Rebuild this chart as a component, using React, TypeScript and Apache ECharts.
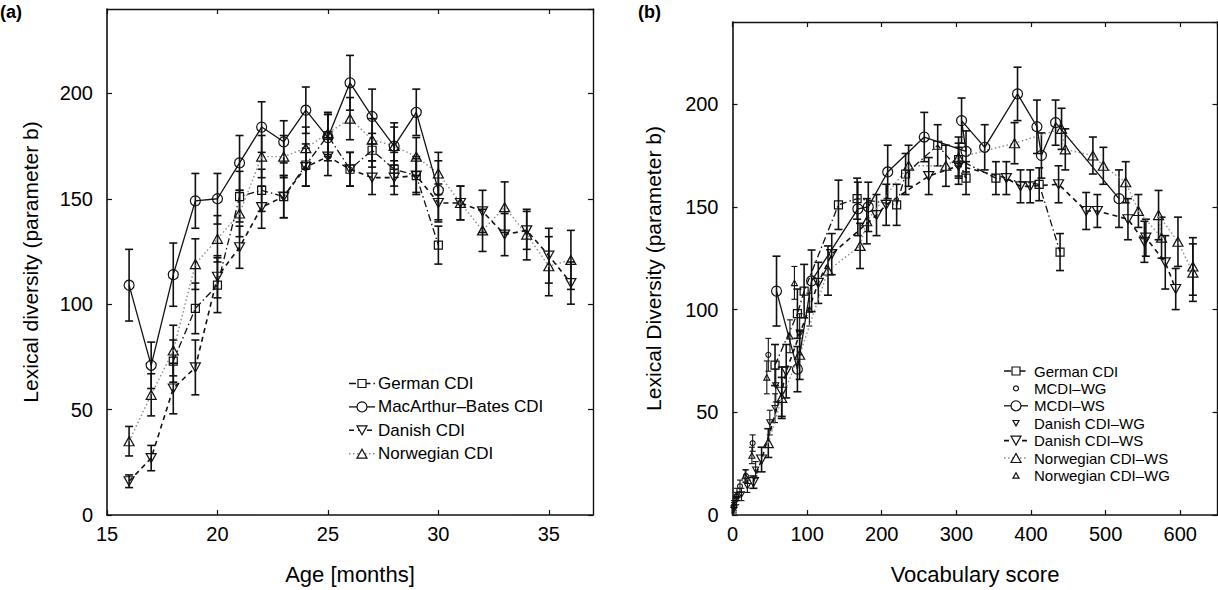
import React, { useEffect, useRef } from 'react';
import * as echarts from 'echarts';

const FONT = '"Liberation Sans", Arial, Helvetica, sans-serif';

// ---------- Panel (a): lexical diversity by age ----------
const macAges = [16, 17, 18, 19, 20, 21, 22, 23, 24, 25, 26, 27, 28, 29, 30];
const macVals = [109, 71, 114, 149, 150, 167, 184, 177, 192, 179, 205, 189, 175, 191, 154];
const macErr = [17, 11, 15, 13, 12, 13, 12, 10, 11, 11, 13, 13, 11, 11, 14];

const gerAges = [18, 19, 20, 21, 22, 23, 24, 25, 26, 27, 28, 29, 30];
const gerVals = [73, 98, 109, 151, 154, 151, 166, 180, 164, 173, 164, 161, 128];
const gerErr = [10, 12, 13, 12, 10, 10, 10, 10, 8, 8, 8, 8, 9];

const danAges = [16, 17, 18, 19, 20, 21, 22, 23, 24, 25, 26, 27, 28, 29, 30, 31, 32, 33, 34, 35, 36];
const danVals = [16, 27, 60, 70, 113, 127, 146, 151, 165, 170, 164, 160, 160, 161, 148, 148, 144, 133, 135, 123, 110];
const danErr = [3, 6, 12, 13, 10, 10, 10, 10, 9, 9, 8, 8, 8, 9, 9, 8, 10, 10, 9, 13, 10];

const norAges = [16, 17, 18, 19, 20, 21, 22, 23, 24, 25, 26, 27, 28, 29, 30, 31, 32, 33, 34, 35, 36];
const norVals = [35, 57, 78, 119, 131, 143, 170, 170, 174, 181, 188, 178, 175, 170, 162, 148, 135, 146, 133, 118, 121];
const norErr = [7, 10, 12, 12, 11, 11, 10, 10, 10, 10, 10, 10, 9, 9, 10, 8, 10, 12, 12, 14, 14];

// ---------- Panel (b): lexical diversity by vocabulary score ----------
const gerVocab = [57, 87, 96, 142, 167, 220, 232, 275, 313, 303, 353, 411, 439];
const mcdiWsVocab = [59, 87, 106, 168, 182, 208, 257, 313, 307, 338, 382, 408, 414, 433, 518];
const danWsVocab = [28, 39, 66, 72, 115, 133, 193, 206, 263, 303, 367, 386, 399, 437, 474, 489, 530, 552, 554, 580, 594];
const norWsVocab = [48, 66, 90, 128, 171, 180, 236, 286, 303, 378, 441, 446, 483, 497, 527, 544, 575, 571, 597, 617, 617];

const mcdiWgVocab = [2, 5, 10, 18, 27, 48];
const mcdiWgVals = [4, 9, 14, 19, 35, 78];
const mcdiWgErr = [2, 2, 3, 3, 4, 8];

const danWgVocab = [2, 5, 12, 20, 31, 50, 57, 58, 90];
const danWgVals = [3, 7, 10, 14, 22, 45, 52, 63, 88];
const danWgErr = [2, 2, 3, 3, 4, 6, 7, 8, 10];

const norWgVocab = [2, 6, 17, 26, 46, 77, 83, 103];
const norWgVals = [5, 10, 19, 29, 67, 87, 113, 100];
const norWgErr = [2, 3, 3, 4, 8, 8, 8, 8];

// ---------- tick settings ----------
const ageMin = 15, ageMax = 37, ageStep = 5;
const vocMin = 0, vocMax = 650, vocStep = 100;
const divMin = 0, divMax = 240, divStep = 50;

const DOWN = 'path://M0,0L10,0L5,9Z';
const INK = '#111';

const pairs = (xs: number[], ys: number[]) => xs.map((x, i) => [x, ys[i]]);
const triples = (xs: number[], ys: number[], es: number[]) => xs.map((x, i) => [x, ys[i], es[i]]);

function errSeries(grid: number, xs: number[], ys: number[], es: number[], cap: number, lw: number) {
  return {
    type: 'custom',
    coordinateSystem: 'cartesian2d',
    xAxisIndex: grid * 2,
    yAxisIndex: grid * 2,
    silent: true,
    z: 2,
    encode: { x: 0, y: 1 },
    data: triples(xs, ys, es),
    renderItem: (_p: any, api: any) => {
      const x = api.value(0), y = api.value(1), e = api.value(2);
      const lo = api.coord([x, y - e]);
      const hi = api.coord([x, y + e]);
      const style = { stroke: INK, lineWidth: lw };
      return {
        type: 'group',
        children: [
          { type: 'line', shape: { x1: lo[0], y1: lo[1], x2: hi[0], y2: hi[1] }, style },
          { type: 'line', shape: { x1: lo[0] - cap, y1: lo[1], x2: lo[0] + cap, y2: lo[1] }, style },
          { type: 'line', shape: { x1: hi[0] - cap, y1: hi[1], x2: hi[0] + cap, y2: hi[1] }, style },
        ],
      };
    },
  };
}

function lineSeries(name: string, grid: number, xs: number[], ys: number[], symbol: string, size: any, lineStyle: any) {
  return {
    type: 'line',
    name,
    xAxisIndex: grid * 2,
    yAxisIndex: grid * 2,
    data: pairs(xs, ys),
    symbol,
    symbolSize: size,
    showSymbol: true,
    z: 3,
    itemStyle: { color: 'transparent', borderColor: INK, borderWidth: 1.2 },
    lineStyle,
    emphasis: { disabled: true },
  };
}

function scatterSeries(name: string, grid: number, xs: number[], ys: number[], symbol: string, size: any) {
  return {
    type: 'scatter',
    name,
    xAxisIndex: grid * 2,
    yAxisIndex: grid * 2,
    data: pairs(xs, ys),
    symbol,
    symbolSize: size,
    z: 3,
    itemStyle: { color: 'transparent', borderColor: INK, borderWidth: 1.1, opacity: 1 },
    emphasis: { disabled: true },
  };
}

const LS_GER = { color: INK, width: 1.3, type: [7, 3, 1.5, 3] };
const LS_MAC = { color: INK, width: 1.3, type: 'solid' };
const LS_DAN = { color: INK, width: 1.6, type: [5, 4] };
const LS_NOR = { color: '#8a8a8a', width: 1.4, type: [1.5, 2.5] };

function markerEl(kind: string, cx: number, cy: number, s: number) {
  const style = { fill: '#fff', stroke: INK, lineWidth: 1.2 };
  if (kind === 'square') return { type: 'rect', z: 101, shape: { x: cx - s / 2, y: cy - s / 2, width: s, height: s }, style };
  if (kind === 'circle') return { type: 'circle', z: 101, shape: { cx, cy, r: s / 2 }, style };
  if (kind === 'up')
    return { type: 'polygon', z: 101, shape: { points: [[cx - s / 2, cy + s * 0.45], [cx + s / 2, cy + s * 0.45], [cx, cy - s * 0.45]] }, style };
  return { type: 'polygon', z: 101, shape: { points: [[cx - s / 2, cy - s * 0.45], [cx + s / 2, cy - s * 0.45], [cx, cy + s * 0.45]] }, style };
}

function legendEls(entries: any[], x0: number, x1: number, textX: number, y0: number, dy: number, fs: number) {
  const els: any[] = [];
  entries.forEach((e, i) => {
    const y = y0 + i * dy;
    const cx = (x0 + x1) / 2;
    if (e.line) {
      els.push({
        type: 'line', z: 100,
        shape: { x1: x0, y1: y, x2: x1, y2: y },
        style: { stroke: e.line.color, lineWidth: e.line.width, lineDash: Array.isArray(e.line.type) ? e.line.type : null },
      });
    }
    els.push(markerEl(e.marker, cx, y, e.size));
    els.push({
      type: 'text', z: 100, x: textX, y,
      style: { text: e.name, fontSize: fs, fontFamily: FONT, fill: '#000', textAlign: 'left', textVerticalAlign: 'middle', align: 'left', verticalAlign: 'middle' },
    });
  });
  return els;
}

const legendA = [
  { name: 'German CDI', marker: 'square', size: 8, line: LS_GER },
  { name: 'MacArthur–Bates CDI', marker: 'circle', size: 10, line: LS_MAC },
  { name: 'Danish CDI', marker: 'down', size: 10, line: LS_DAN },
  { name: 'Norwegian CDI', marker: 'up', size: 10, line: LS_NOR },
];
const legendB = [
  { name: 'German CDI', marker: 'square', size: 8, line: LS_GER },
  { name: 'MCDI–WG', marker: 'circle', size: 5, line: null },
  { name: 'MCDI–WS', marker: 'circle', size: 10, line: LS_MAC },
  { name: 'Danish CDI–WG', marker: 'down', size: 6, line: null },
  { name: 'Danish CDI–WS', marker: 'down', size: 10, line: LS_DAN },
  { name: 'Norwegian CDI–WS', marker: 'up', size: 10, line: LS_NOR },
  { name: 'Norwegian CDI–WG', marker: 'up', size: 6, line: null },
];

function mainX(grid: number, min: number, max: number, step: number, name: string) {
  return {
    type: 'value', gridIndex: grid, position: 'bottom', min, max, interval: step,
    name, nameLocation: 'middle', nameGap: 48,
    nameTextStyle: { fontSize: 22, color: '#000', fontFamily: FONT },
    axisLine: { show: true, lineStyle: { color: INK, width: 1.6 } },
    axisTick: { show: true, inside: true, length: 5, lineStyle: { color: INK, width: 1.2 } },
    axisLabel: { show: true, fontSize: 20, color: '#000', fontFamily: FONT, margin: 9, showMaxLabel: false },
    splitLine: { show: false },
  };
}
function boxX(grid: number, min: number, max: number, step: number) {
  return {
    type: 'value', gridIndex: grid, position: 'top', min, max, interval: step,
    axisLine: { show: true, onZero: false, lineStyle: { color: INK, width: 1.4 } },
    axisTick: { show: true, inside: true, length: 5, lineStyle: { color: INK, width: 1.2 } },
    axisLabel: { show: false },
    splitLine: { show: false },
  };
}
function mainY(grid: number, name: string, gap: number) {
  return {
    type: 'value', gridIndex: grid, position: 'left', min: divMin, max: divMax, interval: divStep,
    name, nameLocation: 'middle', nameGap: gap, nameRotate: 90,
    nameTextStyle: { fontSize: 21, color: '#000', fontFamily: FONT },
    axisLine: { show: true, onZero: false, lineStyle: { color: INK, width: 1.6 } },
    axisTick: { show: true, inside: true, length: 5, lineStyle: { color: INK, width: 1.2 } },
    axisLabel: { show: true, fontSize: 20, color: '#000', fontFamily: FONT, margin: 14, showMaxLabel: false },
    splitLine: { show: false },
  };
}
function boxY(grid: number) {
  return {
    type: 'value', gridIndex: grid, position: 'right', min: divMin, max: divMax, interval: divStep,
    axisLine: { show: true, onZero: false, lineStyle: { color: INK, width: 1.4 } },
    axisTick: { show: true, inside: true, length: 5, lineStyle: { color: INK, width: 1.2 } },
    axisLabel: { show: false },
    splitLine: { show: false },
  };
}

export default function App() {
  const ref = useRef<HTMLDivElement>(null);
  useEffect(() => {
    if (!ref.current) return;
    const chart = echarts.init(ref.current, null, { renderer: 'svg' });
    const option: any = {
      animation: false,
      backgroundColor: '#fff',
      textStyle: { fontFamily: FONT },
      grid: [
        { left: 107, top: 9, width: 486, height: 508 },
        { left: 732.5, top: 22, width: 485, height: 495 },
      ],
      xAxis: [
        mainX(0, ageMin, ageMax, ageStep, 'Age [months]'),
        boxX(0, ageMin, ageMax, ageStep),
        mainX(1, vocMin, vocMax, vocStep, 'Vocabulary score'),
        boxX(1, vocMin, vocMax, vocStep),
      ],
      yAxis: [
        mainY(0, 'Lexical diversity (parameter b)', 66),
        boxY(0),
        mainY(1, 'Lexical Diversity (parameter b)', 69),
        boxY(1),
      ],
      series: [
        // panel (a) error bars
        errSeries(0, norAges, norVals, norErr, 4, 1.6),
        errSeries(0, danAges, danVals, danErr, 4, 1.6),
        errSeries(0, gerAges, gerVals, gerErr, 4, 1.6),
        errSeries(0, macAges, macVals, macErr, 4, 1.6),
        // panel (a) lines
        lineSeries('Norwegian CDI', 0, norAges, norVals, 'triangle', [10, 9], LS_NOR),
        lineSeries('Danish CDI', 0, danAges, danVals, DOWN, [10, 9], LS_DAN),
        lineSeries('German CDI', 0, gerAges, gerVals, 'rect', 8, LS_GER),
        lineSeries('MacArthur–Bates CDI', 0, macAges, macVals, 'circle', 10, LS_MAC),
        // panel (b) error bars
        errSeries(1, norWgVocab, norWgVals, norWgErr, 3, 1.1),
        errSeries(1, danWgVocab, danWgVals, danWgErr, 3, 1.1),
        errSeries(1, mcdiWgVocab, mcdiWgVals, mcdiWgErr, 3, 1.1),
        errSeries(1, norWsVocab, norVals, norErr, 4, 1.6),
        errSeries(1, danWsVocab, danVals, danErr, 4, 1.6),
        errSeries(1, gerVocab, gerVals, gerErr, 4, 1.6),
        errSeries(1, mcdiWsVocab, macVals, macErr, 4, 1.6),
        // panel (b) lines / points
        lineSeries('Norwegian CDI–WS', 1, norWsVocab, norVals, 'triangle', [10, 9], LS_NOR),
        lineSeries('Danish CDI–WS', 1, danWsVocab, danVals, DOWN, [10, 9], LS_DAN),
        lineSeries('German CDI (b)', 1, gerVocab, gerVals, 'rect', 8, LS_GER),
        lineSeries('MCDI–WS', 1, mcdiWsVocab, macVals, 'circle', 10, LS_MAC),
        scatterSeries('MCDI–WG', 1, mcdiWgVocab, mcdiWgVals, 'circle', 5),
        scatterSeries('Danish CDI–WG', 1, danWgVocab, danWgVals, DOWN, [6, 5.5]),
        scatterSeries('Norwegian CDI–WG', 1, norWgVocab, norWgVals, 'triangle', [6, 5.5]),
      ],
      graphic: [
        { type: 'text', left: 0, top: 3, style: { text: '(a)', fontSize: 18, fontWeight: 'bold', fontFamily: FONT, fill: '#000' } },
        { type: 'text', left: 638, top: 3, style: { text: '(b)', fontSize: 18, fontWeight: 'bold', fontFamily: FONT, fill: '#000' } },
        ...legendEls(legendA, 349, 375, 378, 383.5, 23.4, 17),
        ...legendEls(legendB, 1004, 1028, 1034, 371, 17.4, 15),
      ],
    };
    chart.setOption(option);
    return () => chart.dispose();
  }, []);
  return <div ref={ref} style={{ position: 'fixed', left: 0, top: 0, width: 1218, height: 590, background: '#fff' }} />;
}
